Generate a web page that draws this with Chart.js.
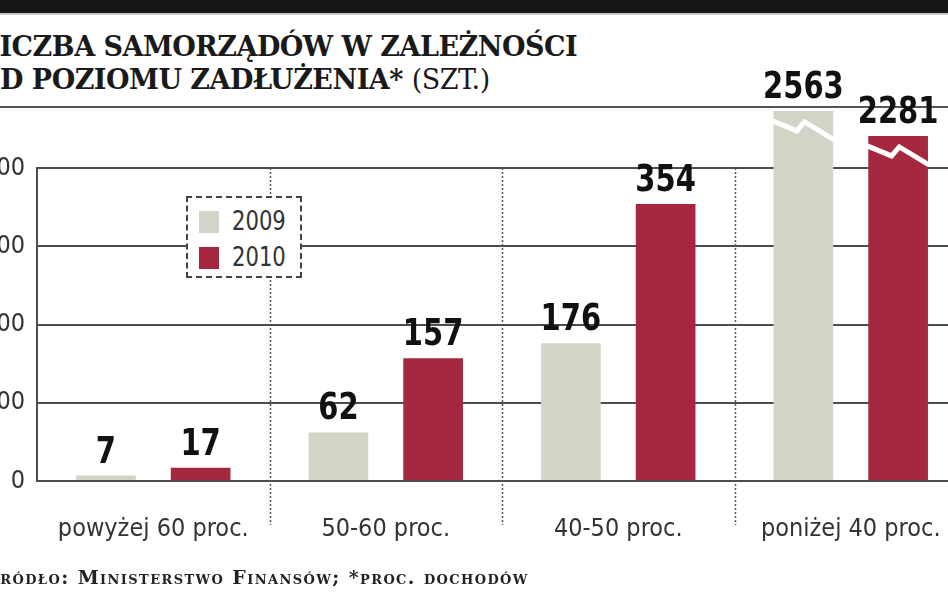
<!DOCTYPE html>
<html>
<head>
<meta charset="utf-8">
<script src="https://cdn.jsdelivr.net/npm/chart.js@4.4.1/dist/chart.umd.min.js"></script>
<style>
html, body { margin: 0; padding: 0; width: 948px; height: 593px; overflow: hidden; background: #fff; }
body { position: relative; }
#band { position: absolute; left: 0; top: 0; width: 948px; height: 13px; background: #161616; border-bottom: 2px solid #c8c8c8; }
.title { position: absolute; font-family: "DejaVu Serif", serif; font-weight: bold; font-size: 27px; line-height: 33px; letter-spacing: -0.5px; color: #1a1a1a; white-space: nowrap; }
.title span { font-weight: normal; }
#t1 { left: -19px; top: 30px; }
#t2 { left: -23px; top: 63px; }
#rule { position: absolute; left: 0; top: 106px; width: 948px; height: 2px; background: #555; }
#wrap { position: absolute; left: -40px; top: 0; width: 1030px; height: 593px; }
#legend { position: absolute; left: 186px; top: 196px; width: 112px; height: 78px; border: 2px dashed #444; background: #fff; font-family: "DejaVu Sans Condensed", "Roboto", sans-serif; font-size: 27px; color: #333; }
#legend .item { position: absolute; left: 11px; height: 26px; line-height: 26px; white-space: nowrap; }
#legend .sw { display: inline-block; width: 20px; height: 22px; vertical-align: -3px; margin-right: 13px; }
#legend .txt { display: inline-block; transform: scaleX(0.87); transform-origin: left center; }
#source { position: absolute; left: -15px; top: 566px; font-family: "DejaVu Serif", serif; font-variant: small-caps; font-size: 19px; letter-spacing: 1.4px; font-weight: bold; color: #222; white-space: nowrap; }
</style>
</head>
<body>
<div id="band"></div>
<div class="title" id="t1">LICZBA SAMORZĄDÓW W ZALEŻNOŚCI</div>
<div class="title" id="t2">OD POZIOMU ZADŁUŻENIA* <span>(SZT.)</span></div>
<div id="rule"></div>
<div id="wrap"><canvas id="chart"></canvas></div>
<div id="legend"></div>
<div id="source">Źródło: Ministerstwo Finansów; *proc. dochodów</div>
<script>
const categories = ["powyżej 60 proc.", "50-60 proc.", "40-50 proc.", "poniżej 40 proc."];
const years = ["2009", "2010"];
const values2009 = [7, 62, 176, 2563];
const values2010 = [17, 157, 354, 2281];
// off-scale bars are drawn cut (broken axis) at these heights, in axis units
const cut2009 = [null, null, null, 473];
const cut2010 = [null, null, null, 441];
const yTicks = [0, 100, 200, 300, 400];
const colors = ["#d3d3c7", "#a5283f"];

const condensed = "'DejaVu Sans Condensed', 'Roboto', sans-serif";

function makeDataset(label, values, cuts, color) {
  return {
    label: label,
    data: values.map((v, i) => cuts[i] != null ? cuts[i] : v),
    realValues: values,
    cuts: cuts,
    backgroundColor: color,
    borderWidth: 0,
    clip: false,
    barPercentage: 0.63,
    categoryPercentage: 0.815
  };
}

// legend
const legend = document.getElementById("legend");
years.forEach((y, i) => {
  const item = document.createElement("div");
  item.className = "item";
  item.style.top = (10 + i * 36) + "px";
  item.innerHTML = '<span class="sw" style="background:' + colors[i] + '"></span><span class="txt">' + y + '</span>';
  legend.appendChild(item);
});

const separators = {
  id: "separators",
  beforeDatasetsDraw(chart) {
    const { ctx, chartArea, scales: { x } } = chart;
    ctx.save();
    ctx.strokeStyle = "#555";
    ctx.lineWidth = 1.5;
    ctx.setLineDash([2, 2]);
    for (let i = 1; i < categories.length; i++) {
      const px = Math.round((x.getPixelForValue(i - 1) + x.getPixelForValue(i)) / 2) + 0.5;
      ctx.beginPath();
      ctx.moveTo(px, chartArea.top);
      ctx.lineTo(px, 525);
      ctx.stroke();
    }
    ctx.restore();
  }
};

const barLabels = {
  id: "barLabels",
  afterDatasetsDraw(chart) {
    const { ctx } = chart;
    chart.data.datasets.forEach((ds, di) => {
      chart.getDatasetMeta(di).data.forEach((bar, i) => {
        const left = bar.x - bar.width / 2;
        if (ds.cuts[i] != null) {
          // zigzag break
          ctx.save();
          ctx.strokeStyle = "#fff";
          ctx.lineWidth = 5;
          ctx.beginPath();
          ctx.moveTo(left - 1, bar.y + 10);
          ctx.lineTo(left + bar.width * 0.39, bar.y + 20);
          ctx.lineTo(left + bar.width * 0.52, bar.y + 11);
          ctx.lineTo(left + bar.width + 1, bar.y + 29);
          ctx.stroke();
          ctx.restore();
        }
        ctx.save();
        ctx.translate(bar.x, bar.y - 13);
        ctx.scale(0.85, 1);
        ctx.fillStyle = "#111";
        ctx.font = "bold 38px " + condensed;
        ctx.textAlign = "center";
        ctx.textBaseline = "alphabetic";
        ctx.fillText(String(ds.realValues[i]), 0, 0);
        ctx.restore();
      });
    });
  }
};

new Chart(document.getElementById("chart"), {
  type: "bar",
  data: {
    labels: categories,
    datasets: [
      makeDataset(years[0], values2009, cut2009, colors[0]),
      makeDataset(years[1], values2010, cut2010, colors[1])
    ]
  },
  options: {
    responsive: true,
    maintainAspectRatio: false,
    animation: false,
    layout: { padding: { top: 168, right: 23, left: 0, bottom: 0 } },
    plugins: {
      legend: { display: false },
      tooltip: { enabled: false }
    },
    scales: {
      x: {
        grid: { display: false },
        border: { display: false },
        ticks: { font: { family: condensed, size: 25 }, color: "#333", padding: 25 },
        afterFit: s => { s.height = 112; }
      },
      y: {
        min: 0,
        max: 400,
        afterBuildTicks: s => { s.ticks = yTicks.map(v => ({ value: v })); },
        grid: { color: "#4d4d4d", lineWidth: 2, drawTicks: false },
        border: { display: true, color: "#4d4d4d", width: 2 },
        ticks: { font: { family: condensed, size: 25 }, color: "#333", padding: 12 },
        afterFit: s => { s.width = 77; }
      }
    }
  },
  plugins: [separators, barLabels]
});
</script>
</body>
</html>
